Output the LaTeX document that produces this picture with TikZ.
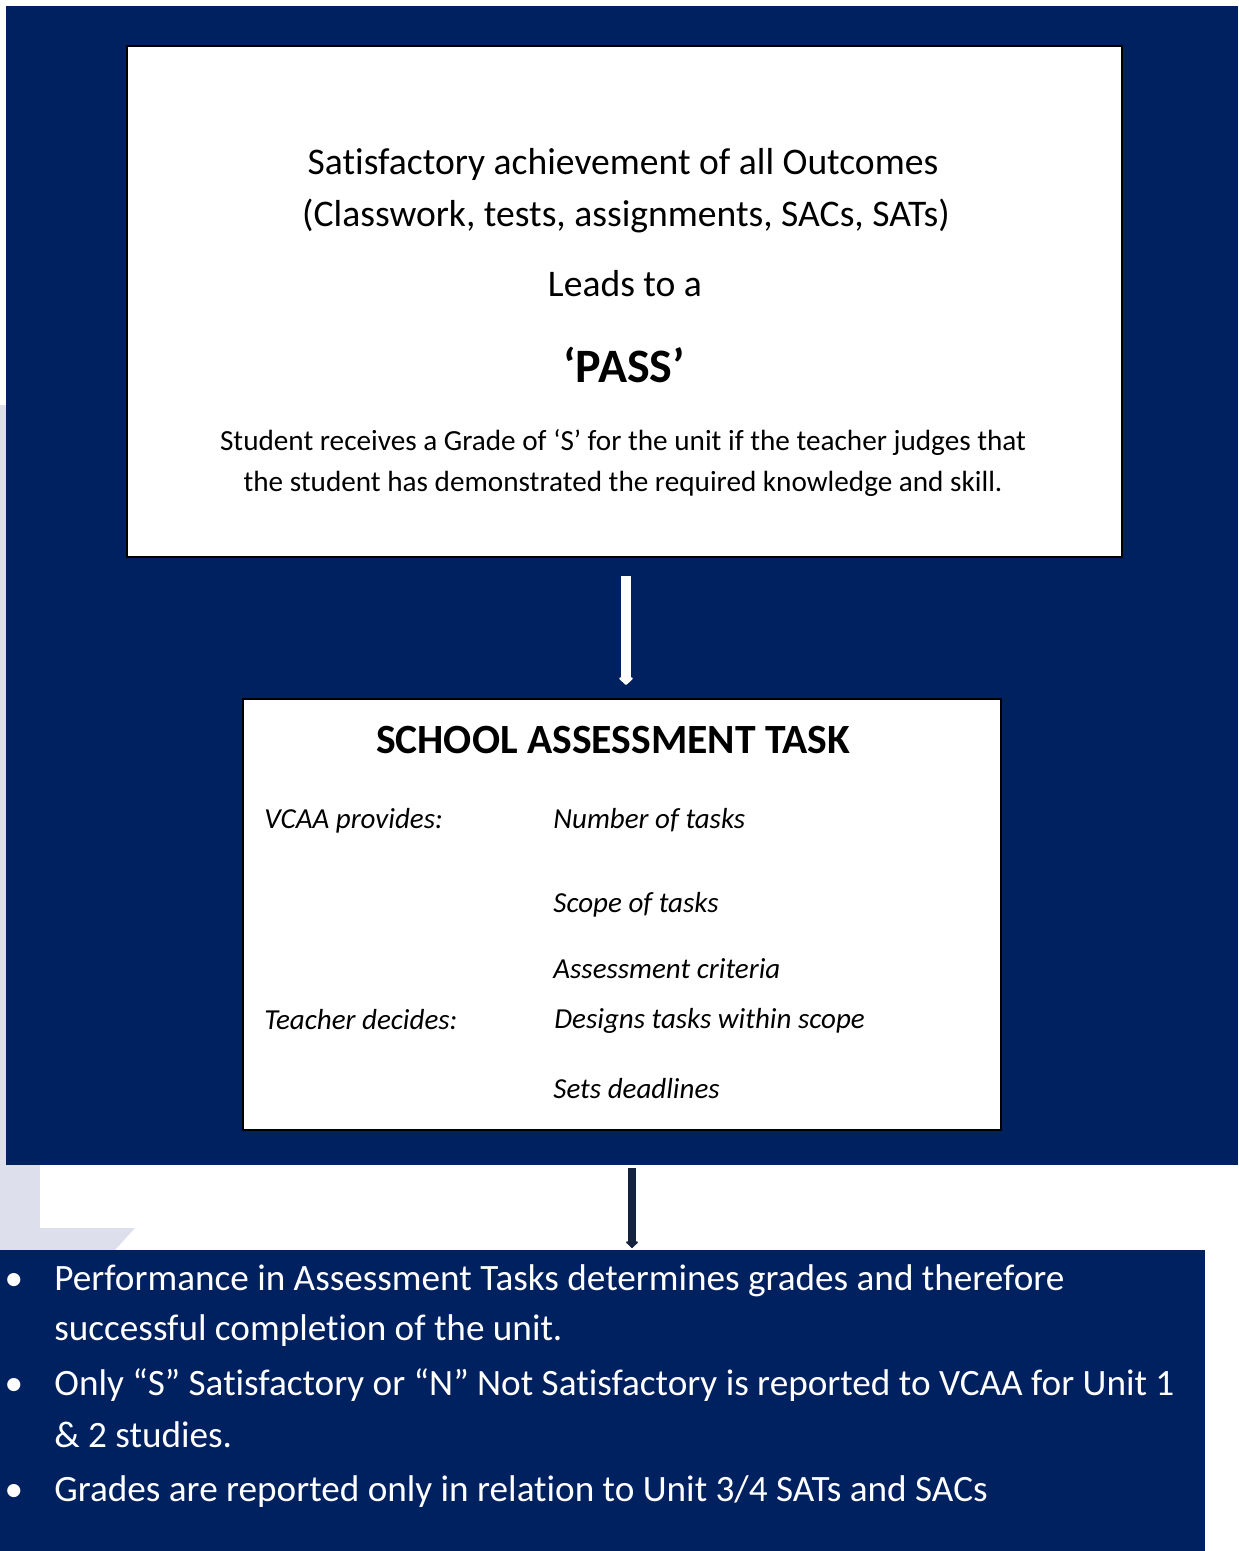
\documentclass[tikz,border=0pt]{standalone}
\usepackage{fontspec}
\setmainfont{Carlito}[Ligatures = NoCommon]
\usetikzlibrary{arrows.meta}
\definecolor{navy}{RGB}{0,33,96}
\definecolor{darkarrow}{RGB}{19,35,63}
\definecolor{lavender}{RGB}{221,223,236}

\begin{document}
\begin{tikzpicture}[
    x = 0.5pt, y = -0.5pt,
    panel/.style = {fill = navy,
      inner sep = 0pt, outer sep = 0pt,
      anchor = north west},
    card/.style = {draw, fill = white,
      line width = 1pt,
      inner sep = 0pt, outer sep = 0pt,
      anchor = north west},
    big/.style = {font = \fontsize{18.8}{22}\selectfont,
      inner sep = 0pt, anchor = base},
    small/.style = {font = \fontsize{14.6}{17}\selectfont,
      inner sep = 0pt, anchor = base},
    task/.style = {font = \fontsize{14.5}{17}\selectfont\itshape,
      inner sep = 0pt, anchor = base west},
    note/.style = {font = \fontsize{18.6}{22}\selectfont,
      text = white, inner sep = 0pt, anchor = base west},
    dot/.style = {font = \fontsize{18.6}{22}\selectfont,
      text = white, inner sep = 0pt, anchor = base},
    ]

    \useasboundingbox [fill = white] (0, 0) rectangle (1238, 1551);
    \fill [lavender] (0, 405) rectangle (40, 1250);
    \fill [lavender] (40, 1228) -- (135, 1228) -- (115, 1250)
    -- (40, 1250) -- cycle;

    \node at (6, 6)
    [panel, minimum width = 616pt, minimum height = 579.5pt,
      name = back] {};
    \node at (0, 1250)
    [panel, minimum width = 602.5pt, minimum height = 150.5pt,
      name = notes] {};

    \node at (127, 46)
    [card, minimum width = 497.5pt, minimum height = 255.5pt,
      name = pass] {};
    \node at (243, 699)
    [card, minimum width = 379pt, minimum height = 215.5pt,
      name = sat] {};

    % pass box
    \node at (623, 175)
    [big, name = outcomes] {Satisfactory achievement of all Outcomes};
    \node at (626, 227)
    [big, name = work] {(Classwork, tests, assignments, SACs, SATs)};
    \node at (625, 297)
    [big, name = leads] {Leads to a};
    \node at (624, 382)
    [big, font = \fontsize{24}{28}\selectfont\bfseries,
      name = password] {‘PASS’};
    \node at (623, 450)
    [small, name = grade1]
    {Student receives a Grade of ‘S’ for the unit if the teacher judges that};
    \node at (623, 491)
    [small, name = grade2]
    {the student has demonstrated the required knowledge and skill.};

    % assessment task box
    \node at (613, 753)
    [big, font = \fontsize{20.8}{24}\selectfont\bfseries,
      name = sattitle] {SCHOOL ASSESSMENT TASK};
    \node at (264, 828) [task, name = vcaa] {VCAA provides:};
    \node at (553, 828) [task, name = number] {Number of tasks};
    \node at (553, 912) [task, name = scope] {Scope of tasks};
    \node at (553, 978) [task, name = criteria] {Assessment criteria};
    \node at (264, 1029) [task, name = teacher] {Teacher decides:};
    \node at (554, 1028) [task, name = designs] {Designs tasks within scope};
    \node at (553, 1098) [task, name = deadlines] {Sets deadlines};

    % notes
    \node at (14, 1290) [dot, name = dot1] {•};
    \node at (14, 1395) [dot, name = dot2] {•};
    \node at (14, 1501) [dot, name = dot3] {•};
    \node at (54, 1290)
    [note, name = perf1]
    {Performance in Assessment Tasks determines grades and therefore};
    \node at (54, 1340)
    [note, name = perf2] {successful completion of the unit.};
    \node at (54, 1395)
    [note, name = only1]
    {Only “S” Satisfactory or “N” Not Satisfactory is reported to VCAA for Unit 1};
    \node at (54, 1447)
    [note, name = only2] {\& 2 studies.};
    \node at (54, 1501)
    [note, name = grades]
    {Grades are reported only in relation to Unit 3/4 SATs and SACs};

    \draw [white, line width = 5pt,
      -{Triangle[round, width = 8pt, length = 4pt]}]
    ([shift = {(1.5, 19)}] pass.south)
    -- ([shift = {(1.5, -14)}] pass.south |- sat.north);

    \draw [darkarrow, line width = 4pt,
      -{Triangle[round, width = 7pt, length = 3.5pt]}]
    ([shift = {(10, 38)}] sat.south)
    -- ([shift = {(10, -2)}] sat.south |- notes.north);

  \end{tikzpicture}
\end{document}
